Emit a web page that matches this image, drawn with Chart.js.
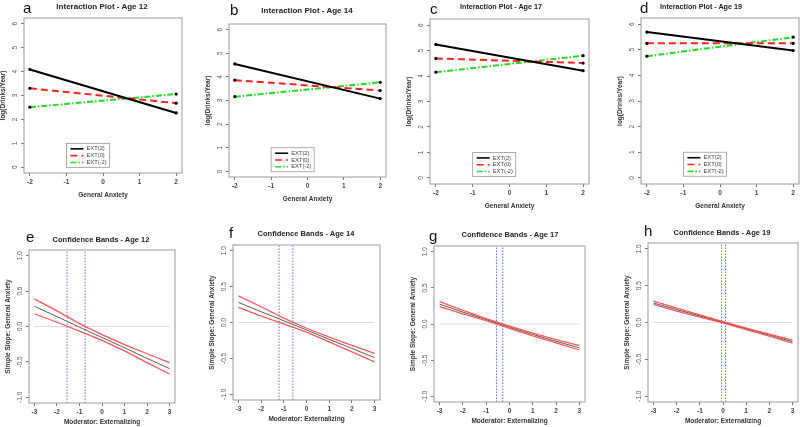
<!DOCTYPE html>
<html>
<head>
<meta charset="utf-8">
<script src="https://cdn.jsdelivr.net/npm/chart.js@4.4.1/dist/chart.umd.min.js"></script>
<style>
  html, body { margin: 0; padding: 0; background: #fff; }
  body { width: 800px; height: 427px; position: relative; overflow: hidden; font-family: "Liberation Sans", Arial, sans-serif; }
  canvas { position: absolute; }
  .ttl { position: absolute; transform: translate(-50%, -50%); font-weight: bold; color: #222; white-space: nowrap; }
  .let { position: absolute; font-size: 15px; color: #111; line-height: 1; }
</style>
</head>
<body>
<script>
// interaction plots: x = General Anxiety
const anxX = [-2, 2];
const intTicksX = [-2, -1, 0, 1, 2];
const intTicksY = [0, 1, 2, 3, 4, 5, 6];
const extLabels = ['EXT(2)', 'EXT(0)', 'EXT(-2)'];

const age12Ext2 = [4.09, 2.27];
const age12Ext0 = [3.30, 2.68];
const age12ExtM2 = [2.51, 3.06];

const age14Ext2 = [4.55, 3.08];
const age14Ext0 = [3.86, 3.42];
const age14ExtM2 = [3.16, 3.77];

const age17Ext2 = [5.24, 4.21];
const age17Ext0 = [4.69, 4.51];
const age17ExtM2 = [4.15, 4.80];

const age19Ext2 = [5.69, 4.97];
const age19Ext0 = [5.25, 5.25];
const age19ExtM2 = [4.75, 5.49];

// confidence bands: x = Moderator: Externalizing
const modX = [-3, -2, -1, 0, 1, 2, 3];
const ciTicksX = [-3, -2, -1, 0, 1, 2, 3];
const ciTicksY = [-1, -0.5, 0, 0.5, 1];

const age12Slope = [0.285, 0.14, -0.01, -0.155, -0.30, -0.45, -0.595];
const age12Upper = [0.39, 0.22, 0.04, -0.115, -0.255, -0.385, -0.51];
const age12Lower = [0.18, 0.06, -0.065, -0.195, -0.345, -0.51, -0.67];
const age12Bounds = [-1.55, -0.75];

const age14Slope = [0.28, 0.15, 0.025, -0.105, -0.235, -0.36, -0.49];
const age14Upper = [0.37, 0.22, 0.06, -0.08, -0.205, -0.32, -0.43];
const age14Lower = [0.21, 0.09, -0.02, -0.135, -0.27, -0.41, -0.55];
const age14Bounds = [-1.21, -0.60];

const age17Slope = [0.275, 0.165, 0.06, -0.045, -0.145, -0.24, -0.33];
const age17Upper = [0.31, 0.19, 0.075, -0.03, -0.125, -0.215, -0.30];
const age17Lower = [0.24, 0.14, 0.045, -0.06, -0.165, -0.26, -0.36];
const age17Bounds = [-0.56, -0.29];

const age19Slope = [0.265, 0.175, 0.09, 0.0, -0.085, -0.17, -0.26];
const age19Upper = [0.29, 0.195, 0.105, 0.012, -0.075, -0.158, -0.24];
const age19Lower = [0.245, 0.155, 0.072, -0.006, -0.097, -0.185, -0.28];
const age19Bounds = [-0.06, 0.11];

const pts = (xs, ys) => xs.map((x, i) => ({ x: x, y: ys[i] }));

// box outline + rotated y tick labels, R style
const rBox = {
  id: 'rBox',
  afterDraw(chart) {
    const { ctx, chartArea: a } = chart;
    const ys = chart.scales.y;
    ctx.save();
    ctx.strokeStyle = '#9a9a9a';
    ctx.lineWidth = 1;
    ctx.strokeRect(a.left, a.top, a.right - a.left, a.bottom - a.top);
    ctx.fillStyle = '#555';
    ctx.font = '6.5px "Liberation Sans", Arial, sans-serif';
    ctx.textAlign = 'center';
    ctx.textBaseline = 'middle';
    const dec = chart.options.yDecimals || 0;
    ys.ticks.forEach(t => {
      const py = ys.getPixelForValue(t.value);
      ctx.save();
      ctx.translate(a.left - 9, py);
      ctx.rotate(-Math.PI / 2);
      ctx.fillText(t.value.toFixed(dec), 0, 0);
      ctx.restore();
    });
    ctx.restore();
  }
};

// legend box anchored at data (-1, 1)
const rLegend = {
  id: 'rLegend',
  afterDraw(chart) {
    if (!chart.options.rLegend) return;
    const { ctx } = chart;
    const x0 = chart.scales.x.getPixelForValue(-1);
    const y0 = chart.scales.y.getPixelForValue(1);
    ctx.save();
    ctx.fillStyle = '#fff';
    ctx.fillRect(x0, y0, 43, 24);
    ctx.strokeStyle = '#999';
    ctx.lineWidth = 0.8;
    ctx.strokeRect(x0, y0, 43, 24);
    chart.data.datasets.forEach((ds, i) => {
      const yy = y0 + 5.5 + i * 6.8;
      ctx.strokeStyle = ds.borderColor;
      ctx.lineWidth = 1.6;
      ctx.setLineDash(ds.borderDash || []);
      ctx.beginPath();
      ctx.moveTo(x0 + 4, yy);
      ctx.lineTo(x0 + 17, yy);
      ctx.stroke();
      ctx.setLineDash([]);
      ctx.fillStyle = '#444';
      ctx.font = '5.8px "Liberation Sans", Arial, sans-serif';
      ctx.textAlign = 'left';
      ctx.textBaseline = 'middle';
      ctx.fillText(ds.label, x0 + 20, yy);
    });
    ctx.restore();
  }
};

function addText(cls, text, x, y, size) {
  const d = document.createElement('div');
  d.className = cls;
  d.textContent = text;
  d.style.left = x + 'px';
  d.style.top = y + 'px';
  if (size) d.style.fontSize = size + 'px';
  document.body.appendChild(d);
}

function makeChart(box, datasets, opt) {
  const cv = document.createElement('canvas');
  const w = box[2] - box[0] + 38, h = box[3] - box[1] + 52;
  cv.width = w; cv.height = h;
  cv.style.left = (box[0] - 30) + 'px';
  cv.style.top = (box[1] - 20) + 'px';
  cv.style.width = w + 'px';
  cv.style.height = h + 'px';
  document.body.appendChild(cv);
  const titleFont = { family: '"Liberation Sans", Arial, sans-serif', size: 6.5, weight: 'bold' };
  new Chart(cv, {
    type: 'line',
    data: { datasets: datasets },
    options: {
      responsive: false,
      animation: false,
      yDecimals: opt.yDecimals,
      rLegend: opt.legend,
      layout: { padding: { left: 0, top: 20, right: 8, bottom: 0 } },
      plugins: { legend: { display: false }, tooltip: { enabled: false } },
      elements: { line: { tension: 0 } },
      scales: {
        x: {
          type: 'linear', min: opt.xMin, max: opt.xMax,
          afterBuildTicks: s => { s.ticks = opt.ticksX.map(v => ({ value: v })); },
          afterFit: s => { s.height = 32; },
          grid: { drawOnChartArea: false, drawTicks: true, tickLength: 3, color: '#777' },
          border: { display: false },
          ticks: { padding: 2, color: '#444', font: { family: '"Liberation Sans", Arial, sans-serif', size: 6.5, weight: 'bold' } },
          title: { display: true, text: opt.xTitle, color: '#333', font: titleFont, padding: { top: 0, bottom: opt.xTitlePad } }
        },
        y: {
          type: 'linear', min: opt.yMin, max: opt.yMax,
          afterBuildTicks: s => { s.ticks = opt.ticksY.map(v => ({ value: v })); },
          afterFit: s => { s.width = 30; },
          grid: { drawOnChartArea: false, drawTicks: true, tickLength: 3, color: '#777' },
          border: { display: false },
          ticks: { display: false },
          title: { display: true, text: opt.yTitle, color: '#333', font: titleFont, padding: { top: 5, bottom: 0 } }
        }
      }
    },
    plugins: [rBox, rLegend]
  });
}

function interaction(box, a, b, c) {
  const mk = (label, data, color, dash) => ({
    label: label, data: pts(anxX, data), borderColor: color, borderWidth: 2, borderDash: dash,
    pointRadius: 1.6, pointBackgroundColor: '#000', pointBorderColor: '#000', pointBorderWidth: 0
  });
  makeChart(box, [
    mk(extLabels[0], a, '#000000', []),
    mk(extLabels[1], b, '#ff2020', [7, 4]),
    mk(extLabels[2], c, '#22dd22', [6, 2, 1.5, 2])
  ], {
    xMin: -2.16, xMax: 2.16, yMin: -0.24, yMax: 6.24, ticksX: intTicksX, ticksY: intTicksY,
    xTitle: 'General Anxiety', yTitle: 'log(Drinks/Year)', yDecimals: 0, legend: true, xTitlePad: 6
  });
}

function bands(box, mid, up, lo, bounds) {
  const line = (data, color, w, dash) => ({
    data: data, borderColor: color, borderWidth: w, borderDash: dash || [], pointRadius: 0
  });
  makeChart(box, [
    line(pts(modX, up), 'rgba(255,70,70,0.9)', 1.3),
    line(pts(modX, lo), 'rgba(255,70,70,0.9)', 1.3),
    line(pts(modX, mid), '#58605a', 1),
    line(pts([modX[0], modX[modX.length - 1]], [0, 0]), '#dcdcdc', 1),
    line(pts([bounds[0], bounds[0]], [-1.08, 1.08]), '#6a6af5', 1, [1.5, 1.5]),
    line(pts([bounds[1], bounds[1]], [-1.08, 1.08]), '#6a6af5', 1, [1.5, 1.5])
  ], {
    xMin: -3.24, xMax: 3.24, yMin: -1.08, yMax: 1.08, ticksX: ciTicksX, ticksY: ciTicksY,
    xTitle: 'Moderator: Externalizing', yTitle: 'Simple Slope: General Anxiety', yDecimals: 1, legend: false,
    xTitlePad: 8.5
  });
}

interaction([24, 18, 182, 173], age12Ext2, age12Ext0, age12ExtM2);
interaction([229, 24, 386, 177], age14Ext2, age14Ext0, age14ExtM2);
interaction([430, 19, 589, 184], age17Ext2, age17Ext0, age17ExtM2);
interaction([641, 18, 799, 184], age19Ext2, age19Ext0, age19ExtM2);

bands([29, 250, 175, 403], age12Slope, age12Upper, age12Lower, age12Bounds);
bands([233, 245, 380, 400], age14Slope, age14Upper, age14Lower, age14Bounds);
bands([434, 246, 585, 402], age17Slope, age17Upper, age17Lower, age17Bounds);
bands([648, 243, 798, 402], age19Slope, age19Upper, age19Lower, age19Bounds);

addText('ttl', 'Interaction Plot - Age 12', 102, 6, 8);
addText('ttl', 'Interaction Plot - Age 14', 307, 10, 8);
addText('ttl', 'Interaction Plot - Age 17', 501, 6, 7.2);
addText('ttl', 'Interaction Plot - Age 19', 701, 6, 7.2);
addText('ttl', 'Confidence Bands - Age 12', 101, 239, 7.5);
addText('ttl', 'Confidence Bands - Age 14', 306, 233, 7.5);
addText('ttl', 'Confidence Bands - Age 17', 510, 234, 7.5);
addText('ttl', 'Confidence Bands - Age 19', 722, 232, 7.5);

addText('let', 'a', 23, 0);
addText('let', 'b', 230, 2);
addText('let', 'c', 430, 1);
addText('let', 'd', 640, 0);
addText('let', 'e', 26, 229);
addText('let', 'f', 229, 225);
addText('let', 'g', 429, 228);
addText('let', 'h', 644, 223);
</script>
</body>
</html>
